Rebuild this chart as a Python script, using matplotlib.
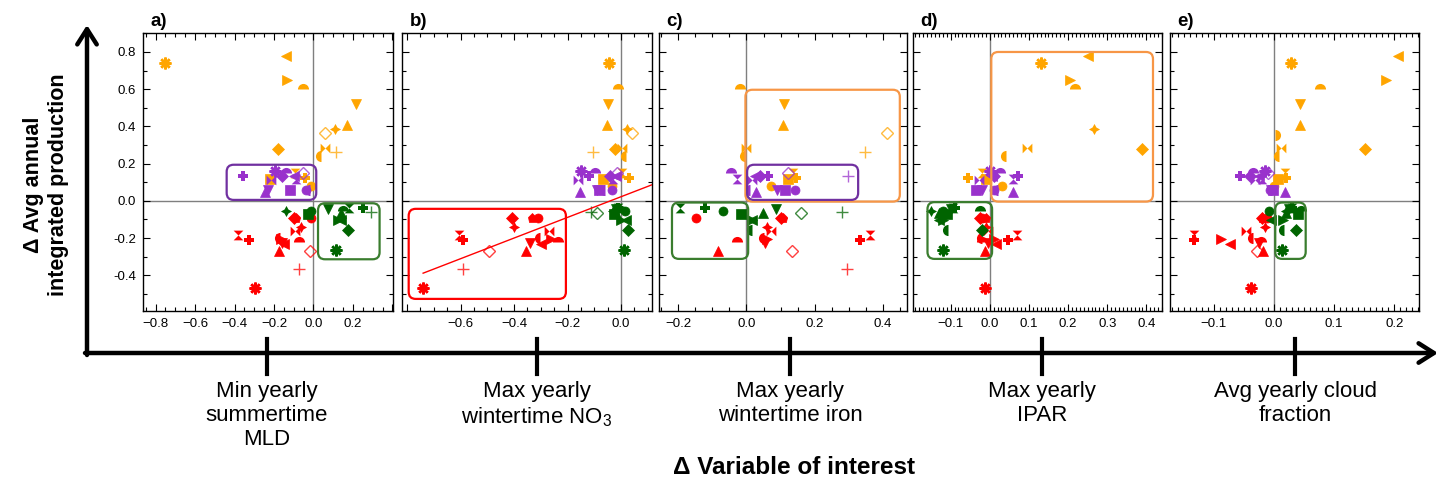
import numpy as np
import matplotlib
matplotlib.use("Agg")
import matplotlib.pyplot as plt
from matplotlib.patches import FancyBboxPatch, FancyArrowPatch
from matplotlib.lines import Line2D
from matplotlib.ticker import MultipleLocator, AutoMinorLocator, FuncFormatter

plt.rcParams['font.family'] = ['Liberation Sans', 'DejaVu Sans']
plt.rcParams['mathtext.fontset'] = 'custom'
plt.rcParams['mathtext.rm'] = 'Liberation Sans'

nan = np.nan

# ---- data: y (change in production) is shared by a site across panels ----
PANELS = ['a)', 'b)', 'c)', 'd)', 'e)']
CATEGORIES = ['Min yearly\nsummertime\nMLD', 'Max yearly\nwintertime NO$_3$',
              'Max yearly\nwintertime iron', 'Max yearly\nIPAR',
              'Avg yearly cloud\nfraction']

ORANGE_M = ['ast', '<', '>', 'hct', 'v', '^', 'st4', 'Do', 'D', '+', 'bt', 'hcl', 's', 'hg', 'P', 'o', 'hcr']
ORANGE_Y = [0.741, 0.777, 0.648, 0.603, 0.520, 0.409, 0.386, 0.364, 0.278, 0.265, 0.283, 0.239, 0.118, 0.149, 0.122, 0.081, 0.355]
ORANGE_X_A = [-0.754, -0.141, -0.134, -0.053, 0.217, 0.170, 0.107, 0.056, -0.180, 0.116, 0.056, 0.040, -0.222, -0.096, -0.045, -0.011, nan]
ORANGE_X_B = [-0.046, nan, nan, -0.011, -0.050, -0.052, 0.022, 0.041, -0.024, -0.106, 0.004, 0.019, -0.069, 0.004, 0.031, -0.034, nan]
ORANGE_X_C = [nan, nan, nan, -0.020, 0.110, 0.107, nan, 0.410, nan, 0.346, -0.002, -0.005, 0.122, 0.136, 0.146, 0.073, nan]
ORANGE_X_D = [0.132, 0.251, 0.206, 0.219, nan, nan, 0.266, nan, 0.388, nan, 0.094, 0.041, -0.009, -0.020, -0.055, 0.032, nan]
ORANGE_X_E = [0.029, 0.206, 0.186, 0.076, 0.043, 0.043, nan, nan, 0.152, nan, 0.011, 0.008, 0.007, 0.018, 0.020, 0.000, 0.001]

PURPLE_M = ['P', 'ast', 'hct', 'hg', 'Do', 'bt', 'v', 's', 'o', '^', 'D', '<', '+', 'hcl']
PURPLE_Y = [0.131, 0.158, 0.149, 0.120, 0.147, 0.113, 0.057, 0.059, 0.059, 0.050, 0.131, 0.131, 0.131, 0.060]
PURPLE_X_A = [-0.357, -0.197, -0.138, -0.087, -0.053, -0.214, -0.231, -0.121, -0.040, -0.245, -0.160, -0.100, nan, -0.019]
PURPLE_X_B = [-0.121, -0.149, -0.096, -0.030, -0.015, -0.160, -0.090, -0.084, -0.034, -0.153, -0.040, -0.020, nan, -0.060]
PURPLE_X_C = [0.063, nan, -0.044, -0.029, 0.122, 0.015, 0.088, 0.112, 0.141, 0.027, 0.039, 0.024, 0.297, 0.010]
PURPLE_X_D = [0.072, 0.000, 0.026, 0.060, nan, -0.028, -0.020, -0.036, 0.010, 0.060, 0.010, 0.005, nan, 0.020]
PURPLE_X_E = [-0.057, -0.015, -0.035, -0.020, -0.010, -0.032, -0.005, -0.002, -0.007, 0.018, -0.040, -0.025, nan, -0.003]

RED_M = ['ast', 'hg', 'P', 'D', 'st4', 'p', 'v', '^', 'hcl', 'bt', 'hct', 'Do', '+', 'o', '>', '<']
RED_Y = [-0.470, -0.183, -0.210, -0.090, -0.143, -0.090, -0.228, -0.269, -0.200, -0.161, -0.222, -0.267, -0.366, -0.093, -0.205, -0.230]
RED_X_A = [-0.295, -0.383, -0.327, -0.100, -0.065, -0.087, -0.160, -0.175, -0.170, -0.095, -0.074, -0.020, -0.074, -0.014, -0.163, -0.150]
RED_X_B = [-0.740, -0.606, -0.590, -0.409, -0.400, -0.334, -0.342, -0.355, -0.302, -0.271, -0.237, -0.492, -0.590, -0.310, -0.260, -0.300]
RED_X_C = [nan, 0.363, 0.332, 0.100, 0.060, 0.107, 0.054, -0.083, 0.050, 0.073, -0.027, 0.132, 0.295, -0.148, 0.060, nan]
RED_X_D = [-0.013, 0.070, 0.047, -0.025, -0.010, -0.010, -0.005, -0.012, -0.020, -0.005, -0.020, nan, nan, -0.020, 0.010, 0.015]
RED_X_E = [-0.039, -0.133, -0.133, -0.020, -0.015, -0.020, -0.025, -0.018, -0.035, -0.047, -0.022, -0.028, nan, -0.012, -0.089, -0.073]

GREEN_M = ['ast', 'D', 'st4', 'P', '+', 'v', '>', 'Do', 'hg', 's', 'o', '<', 'hct', 'hcl', '^']
GREEN_Y = [-0.262, -0.156, -0.052, -0.036, -0.062, -0.045, -0.102, -0.066, -0.040, -0.072, -0.057, -0.105, -0.055, -0.156, -0.066]
GREEN_X_A = [0.116, 0.175, -0.138, 0.251, 0.293, 0.073, 0.124, nan, 0.180, -0.030, -0.015, 0.140, 0.150, nan, 0.140]
GREEN_X_B = [0.011, 0.026, -0.030, -0.010, -0.111, -0.020, 0.000, -0.088, -0.010, -0.025, 0.015, 0.020, 0.000, nan, -0.020]
GREEN_X_C = [nan, nan, nan, -0.122, 0.281, 0.086, 0.015, 0.161, -0.195, -0.015, -0.068, 0.015, nan, 0.015, 0.049]
GREEN_X_D = [-0.119, -0.020, -0.150, -0.090, nan, -0.100, -0.120, nan, -0.095, -0.110, -0.120, -0.130, -0.026, -0.106, -0.130]
GREEN_X_E = [0.014, 0.037, 0.020, 0.030, nan, 0.025, 0.015, nan, 0.030, 0.040, -0.008, -0.005, 0.045, 0.016, 0.020]

# highlighted regions (x0, y0, x1, y1, colour) per panel
BOXES = [
    [(-0.44, 0.005, 0.014, 0.194, '#7030A0'), (0.023, -0.314, 0.335, -0.013, '#3A7D2E')],
    [(-0.794, -0.527, -0.206, -0.043, '#FF0000')],
    [(-0.003, -0.004, 0.449, 0.597, '#F79646'), (0.002, 0.005, 0.327, 0.194, '#7030A0'),
     (-0.218, -0.312, 0.005, -0.009, '#3A7D2E')],
    [(0.004, -0.004, 0.417, 0.80, '#F79646'), (-0.159, -0.312, 0.006, -0.007, '#3A7D2E')],
    [(0.002, -0.312, 0.0526, -0.009, '#3A7D2E')],
]
# regression line in panel b
LINE_B_SLOPE = 0.555
LINE_B_INTERCEPT = 0.022
LINE_B_XSTART = -0.74

XLIMS = [(-0.864, 0.403), (-0.819, 0.116), (-0.256, 0.470), (-0.196, 0.44), (-0.173, 0.241)]
XLABEL_RANGE = [(-0.8, 0.2), (-0.6, 0.0), (-0.2, 0.4), (-0.1, 0.4), (-0.1, 0.2)]
XMAJOR = [0.2, 0.2, 0.2, 0.1, 0.1]
XMINOR = [4, 4, 4, 10, 10]
YLIM = (-0.592, 0.902)

GROUPS = [
    ('#FFA500', ORANGE_M, ORANGE_Y, [ORANGE_X_A, ORANGE_X_B, ORANGE_X_C, ORANGE_X_D, ORANGE_X_E]),
    ('#9932CC', PURPLE_M, PURPLE_Y, [PURPLE_X_A, PURPLE_X_B, PURPLE_X_C, PURPLE_X_D, PURPLE_X_E]),
    ('#FF0000', RED_M, RED_Y, [RED_X_A, RED_X_B, RED_X_C, RED_X_D, RED_X_E]),
    ('#006400', GREEN_M, GREEN_Y, [GREEN_X_A, GREEN_X_B, GREEN_X_C, GREEN_X_D, GREEN_X_E]),
]

HG = [(-1, 1), (1, 1), (0, 0), (1, -1), (-1, -1), (0, 0), (-1, 1)]
BT = [(-1, 1), (0, 0), (1, 1), (1, -1), (0, 0), (-1, -1), (-1, 1)]


def marker_kw(code, color):
    kw = dict(linestyle='none', color=color, mfc=color, mec=color, ms=6.5, mew=0.5)
    if code == 'ast':
        kw.update(marker=(8, 2, 0), ms=8.5, mew=1.8)
    elif code in ('hct', 'hcl', 'hcr'):
        side = {'hct': 'top', 'hcl': 'left', 'hcr': 'right'}[code]
        kw.update(marker='o', fillstyle=side, mfcalt='none', mew=0, ms=8)
    elif code == 'Do':
        kw.update(marker='D', mfc='none', mew=1.0, ms=6, alpha=0.75)
    elif code == '+':
        kw.update(marker='+', mew=1.0, ms=9, alpha=0.75)
    elif code == 'P':
        kw.update(marker='P', ms=7.5, mew=0)
    elif code == 'st4':
        kw.update(marker=(4, 1, 0), ms=8, mew=0)
    elif code == 'hg':
        kw.update(marker=HG, ms=7, mew=0)
    elif code == 'bt':
        kw.update(marker=BT, ms=7, mew=0)
    elif code == 'D':
        kw.update(marker='D', ms=6)
    else:
        kw.update(marker=code)
    return kw


def x_formatter(lo, hi):
    def fmt(v, pos):
        if v < lo - 1e-9 or v > hi + 1e-9:
            return ''
        return ('%.1f' % (round(v, 1) + 0.0)).replace('-', '\u2212')
    return FuncFormatter(fmt)


W, H = 1448, 484
fig = plt.figure(figsize=(W / 100, H / 100), dpi=100)


def fx(px):
    return px / W


def fy(py):
    return 1 - py / H


AX_LEFT = [143, 402, 659, 913, 1170]
AX_WIDTH = [250, 250, 248, 249, 249]
AX_TOP, AX_BOTTOM = 33, 311

for i in range(5):
    ax = fig.add_axes([fx(AX_LEFT[i]), fy(AX_BOTTOM), AX_WIDTH[i] / W, (AX_BOTTOM - AX_TOP) / H])
    ax.set_xlim(*XLIMS[i])
    ax.set_ylim(*YLIM)
    ax.axhline(0, color='#7f7f7f', lw=1.0, zorder=1)
    ax.axvline(0, color='#7f7f7f', lw=1.0, zorder=1)

    for color, markers, ys, xs_all in GROUPS:
        xs = xs_all[i]
        for x, y, m in zip(xs, ys, markers):
            if np.isnan(x):
                continue
            ax.plot([x], [y], zorder=3, **marker_kw(m, color))

    # rounded highlight boxes
    x0l, x1l = XLIMS[i]
    dx_px = (x1l - x0l) / AX_WIDTH[i]
    dy_px = (YLIM[1] - YLIM[0]) / (AX_BOTTOM - AX_TOP)
    for bx0, by0, bx1, by1, bc in BOXES[i]:
        box = FancyBboxPatch((bx0, by0), bx1 - bx0, by1 - by0,
                             boxstyle='round,pad=0,rounding_size=%f' % (7 * dx_px),
                             mutation_aspect=dy_px / dx_px,
                             fc='none', ec=bc, lw=1.6, zorder=4)
        ax.add_patch(box)

    if i == 1:
        lx = np.array([LINE_B_XSTART, x1l])
        ax.plot(lx, LINE_B_SLOPE * lx + LINE_B_INTERCEPT, color='#FF0000', lw=1.0, zorder=4)

    ax.xaxis.set_major_locator(MultipleLocator(XMAJOR[i]))
    ax.xaxis.set_minor_locator(AutoMinorLocator(XMINOR[i]))
    ax.xaxis.set_major_formatter(x_formatter(*XLABEL_RANGE[i]))
    ax.yaxis.set_major_locator(MultipleLocator(0.2))
    ax.yaxis.set_minor_locator(AutoMinorLocator(2))
    ax.tick_params(which='both', direction='in', top=True, right=True, width=0.8)
    ax.tick_params(which='major', length=5, labelsize=9.5, pad=5)
    ax.tick_params(which='minor', length=3)
    ax.yaxis.set_major_formatter(FuncFormatter(lambda v, p: '%.1f' % (round(v, 1) + 0.0)))
    if i > 0:
        ax.tick_params(labelleft=False)
    for sp in ax.spines.values():
        sp.set_linewidth(1.0)
    ax.text(0.03, 1.012, PANELS[i], transform=ax.transAxes, fontsize=13.5,
            fontweight='bold', ha='left', va='bottom')

# outer axes with arrows
arrow_style = '->,head_length=0.55,head_width=0.35'
fig.add_artist(FancyArrowPatch((fx(87), fy(355)), (fx(87), fy(25)), transform=fig.transFigure,
                               arrowstyle=arrow_style, mutation_scale=20, lw=3.2, color='black',
                               shrinkA=0, shrinkB=0))
fig.add_artist(FancyArrowPatch((fx(85), fy(353)), (fx(1438), fy(353)), transform=fig.transFigure,
                               arrowstyle=arrow_style, mutation_scale=20, lw=3.2, color='black',
                               shrinkA=0, shrinkB=0))

CAT_X = [267, 537, 790, 1042, 1295]
for cx, label in zip(CAT_X, CATEGORIES):
    fig.add_artist(Line2D([fx(cx), fx(cx)], [fy(339), fy(374)], transform=fig.transFigure,
                          color='black', lw=3))
    fig.text(fx(cx), fy(381), label, ha='center', va='top', fontsize=16, linespacing=1.2)

fig.text(fx(794), fy(467), '\u0394 Variable of interest', ha='center', va='center',
         fontsize=17.5, fontweight='bold')
fig.text(fx(46), fy(185), '\u0394 Avg annual\nintegrated production', ha='center', va='center',
         rotation=90, fontsize=15.5, fontweight='bold', linespacing=1.2)

fig.savefig('out.png', dpi=100)
